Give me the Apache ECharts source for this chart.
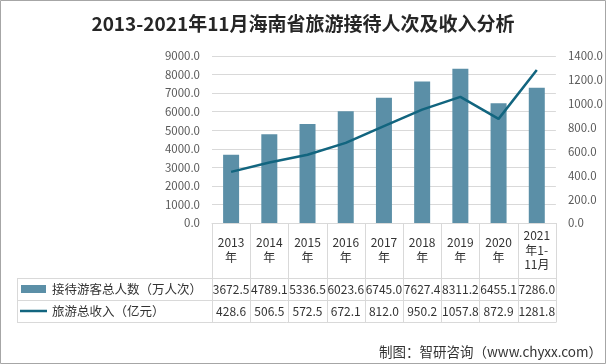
<!DOCTYPE html>
<html>
<head>
<meta charset="utf-8">
<script src="https://cdn.jsdelivr.net/npm/echarts@6/dist/echarts.min.js"></script>
<style>
html,body{margin:0;padding:0;background:#fff;}
#c{width:606px;height:364px;}
</style>
</head>
<body>
<div id="c"></div>
<script>
// ---- data ----
var categories = ['2013年', '2014年', '2015年', '2016年', '2017年', '2018年', '2019年', '2020年', '2021年1-11月'];
var headerLabels = ['2013\n年', '2014\n年', '2015\n年', '2016\n年', '2017\n年', '2018\n年', '2019\n年', '2020\n年', '2021\n年1-\n11月'];
var visitors = [3672.5, 4789.1, 5336.5, 6023.6, 6745.0, 7627.4, 8311.2, 6455.1, 7286.0];
var revenue = [428.6, 506.5, 572.5, 672.1, 812.0, 950.2, 1057.8, 872.9, 1281.8];
var seriesNames = ['接待游客总人数（万人次）', '旅游总收入（亿元）'];
var titleText = '2013-2021年11月海南省旅游接待人次及收入分析';
var sourceText = '制图：智研咨询（www.chyxx.com）';

var barColor = '#5b8fa7';
var lineColor = '#12657f';
var gridColor = '#d9d9d9';
var txt = '#333333';
var font = '"Noto Sans CJK SC", "Noto Sans", sans-serif';

var chart = echarts.init(document.getElementById('c'), null, {renderer: 'canvas'});

var GL = 212, GR = 558, GT = 56, GB = 223;
var option = {
  animation: false,
  backgroundColor: '#ffffff',
  title: {
    text: titleText, left: 'center', top: 9,
    textStyle: {fontSize: 19, fontWeight: 'bold', color: '#262626', fontFamily: font}
  },
  grid: {left: GL, right: 606 - GR, top: GT, bottom: 364 - GB},
  xAxis: {
    type: 'category', data: categories,
    axisLine: {show: true, lineStyle: {color: gridColor}},
    axisTick: {show: false},
    axisLabel: {
      interval: 0, margin: 27, verticalAlign: 'middle', lineHeight: 14.5,
      fontSize: 12, color: txt, fontFamily: font,
      formatter: function (v, i) { return headerLabels[i]; }
    }
  },
  yAxis: [{
    type: 'value', min: 0, max: 9000, interval: 1000,
    axisLine: {show: false}, axisTick: {show: false},
    splitLine: {lineStyle: {color: gridColor}},
    axisLabel: {margin: 12, fontSize: 11.5, color: '#595959', fontFamily: font,
      formatter: function (v) { return v.toFixed(1); }}
  }, {
    type: 'value', min: 0, max: 1400, interval: 200,
    axisLine: {show: false}, axisTick: {show: false},
    splitLine: {show: false},
    axisLabel: {margin: 12, fontSize: 11.5, color: '#595959', fontFamily: font,
      formatter: function (v) { return v.toFixed(1); }}
  }],
  series: [{
    name: seriesNames[0], type: 'bar', data: visitors, yAxisIndex: 0,
    barWidth: 16, itemStyle: {color: barColor}
  }, {
    name: seriesNames[1], type: 'line', data: revenue, yAxisIndex: 1,
    symbol: 'none', lineStyle: {color: lineColor, width: 2.5}
  }]
};
chart.setOption(option);

// ---- data table under the chart ----
function buildTable() {
  var els = [];
  var n = categories.length;
  var c0 = chart.convertToPixel({xAxisIndex: 0}, 0);
  var c1 = chart.convertToPixel({xAxisIndex: 0}, 1);
  var bw = c1 - c0;
  var rowTop = 278, rowMid = 300, rowBot = 322, headTop = GB, legLeft = 17;
  var lineStyle = {stroke: gridColor, lineWidth: 1};
  for (var i = 0; i <= n; i++) {
    var x = Math.round(c0 - bw / 2 + i * bw) + 0.5;
    els.push({type: 'line', shape: {x1: x, y1: headTop, x2: x, y2: rowBot}, style: lineStyle, silent: true});
  }
  var xr = Math.round(c0 - bw / 2 + n * bw) + 0.5;
  els.push({type: 'line', shape: {x1: legLeft + 0.5, y1: rowTop, x2: legLeft + 0.5, y2: rowBot}, style: lineStyle});
  [rowTop, rowMid, rowBot].forEach(function (y) {
    els.push({type: 'line', shape: {x1: legLeft, y1: y + 0.5, x2: xr, y2: y + 0.5}, style: lineStyle});
  });
  els.push({type: 'rect', shape: {x: 21, y: 285, width: 25, height: 8}, style: {fill: barColor}});
  els.push({type: 'line', shape: {x1: 20, y1: 311, x2: 47, y2: 311}, style: {stroke: lineColor, lineWidth: 2.5}});
  els.push({type: 'text', x: 52, y: 289, style: {text: seriesNames[0], fill: txt, font: '12.5px ' + font, textVerticalAlign: 'middle'}});
  els.push({type: 'text', x: 52, y: 311, style: {text: seriesNames[1], fill: txt, font: '12.5px ' + font, textVerticalAlign: 'middle'}});
  for (var j = 0; j < n; j++) {
    var cx = chart.convertToPixel({xAxisIndex: 0}, j);
    els.push({type: 'text', x: cx, y: 289.5, style: {text: visitors[j].toFixed(1), fill: txt, font: '12px ' + font, textAlign: 'center', textVerticalAlign: 'middle'}});
    els.push({type: 'text', x: cx, y: 311.5, style: {text: revenue[j].toFixed(1), fill: txt, font: '12px ' + font, textAlign: 'center', textVerticalAlign: 'middle'}});
  }
  els.push({type: 'text', right: 4, top: 345, style: {text: sourceText, fill: txt, font: '13.5px ' + font}});
  els.push({type: 'rect', shape: {x: 0.5, y: 0.5, width: 605, height: 363}, style: {fill: 'none', stroke: '#a6a6a6', lineWidth: 1}, silent: true});
  chart.setOption({graphic: els});
}
buildTable();
</script>
</body>
</html>
